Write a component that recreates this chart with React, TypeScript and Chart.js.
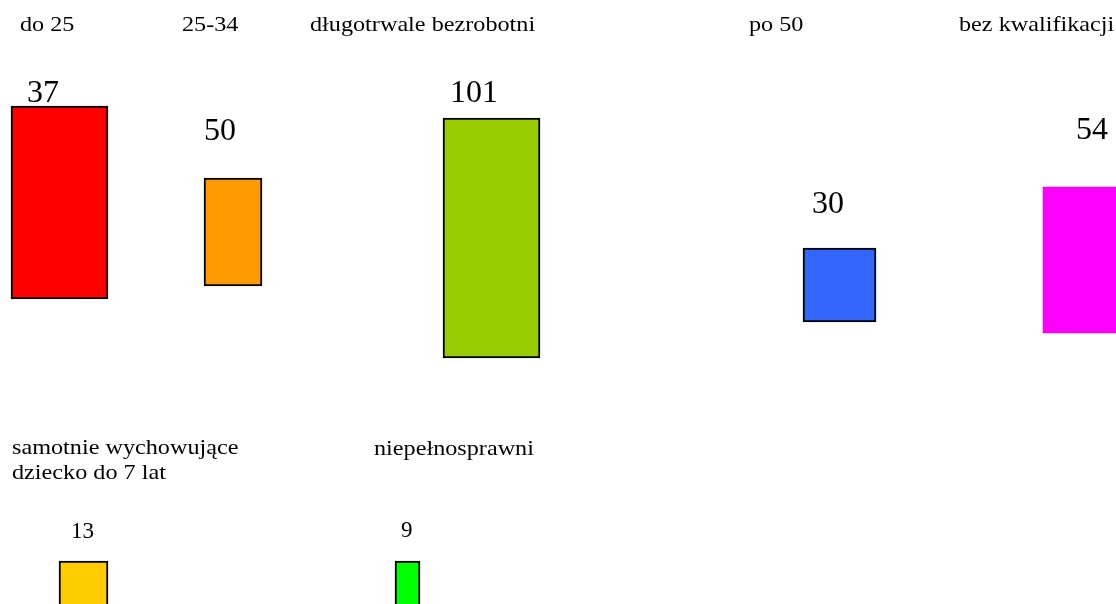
import React, { useEffect, useRef } from "react";
import { Chart, registerables } from "chart.js";

Chart.register(...registerables);

// ---- data ----
const categories = [
  "do 25",
  "25-34",
  "długotrwale bezrobotni",
  "po 50",
  "bez kwalifikacji",
  "samotnie wychowujące\ndziecko do 7 lat",
  "niepełnosprawni",
];
const values = [37, 50, 101, 30, 54, 13, 9];
const fillColors = ["#FF0000", "#FF9900", "#99CC00", "#3366FF", "#FF00FF", "#FFCC00", "#00FF00"];
const hasBorder = [true, true, true, true, false, true, true];

// ---- layout (in the hidden 0..1116 x 0..604 drawing space) ----
const boxX0 = [11, 204, 443, 803, 1043, 59, 395];
const boxX1 = [108, 262, 540, 876, 1130, 108, 420];
const boxTop = [106, 178, 118, 248, 187, 561, 561];
const boxBottom = [299, 286, 358, 322, 333, 625, 625];
const nameX = [20, 182, 310, 749, 959, 12, 374];
const nameY = [31, 31, 31, 31, 31, 454, 455];
const valueX = [27, 204, 450, 812, 1076, 71, 401];
const valueY = [102, 140, 102, 213, 139, 538, 537];
const valueSize = [32, 32, 32, 32, 32, 23, 23];

const FONT = "'Liberation Serif', 'Times New Roman', Times, serif";
const NAME_SIZE = 22;
const NAME_STRETCH = 1.1;
const LINE_GAP = 25;

const labelPlugin = {
  id: "boxLabels",
  afterDatasetsDraw(chart: any) {
    const { ctx } = chart;
    const xs = chart.scales.x;
    const ys = chart.scales.y;
    ctx.save();
    ctx.fillStyle = "#000";
    ctx.textAlign = "left";
    ctx.textBaseline = "alphabetic";
    categories.forEach((name, i) => {
      name.split("\n").forEach((line, k) => {
        const px = xs.getPixelForValue(nameX[i]);
        const py = ys.getPixelForValue(nameY[i] + k * LINE_GAP);
        ctx.save();
        ctx.translate(px, py);
        ctx.scale(NAME_STRETCH, 1);
        ctx.font = `${NAME_SIZE}px ${FONT}`;
        ctx.fillText(line, 0, 0);
        ctx.restore();
      });
      ctx.font = `${valueSize[i]}px ${FONT}`;
      ctx.fillText(String(values[i]), xs.getPixelForValue(valueX[i]), ys.getPixelForValue(valueY[i]));
    });
    ctx.restore();
  },
};

export default function App() {
  const ref = useRef<HTMLCanvasElement | null>(null);

  useEffect(() => {
    document.body.style.margin = "0";
    document.body.style.overflow = "hidden";
    const canvas = ref.current;
    if (!canvas) return;
    const datasets = categories.map((name, i) => ({
      label: name,
      data: [{ x: (boxX0[i] + boxX1[i]) / 2, y: [boxTop[i], boxBottom[i]] }],
      backgroundColor: fillColors[i],
      borderColor: "#000000",
      borderWidth: hasBorder[i] ? 2 : 0,
      borderSkipped: false,
      barThickness: boxX1[i] - boxX0[i],
      grouped: false,
    }));
    const chart = new Chart(canvas, {
      type: "bar",
      data: { datasets } as any,
      plugins: [labelPlugin],
      options: {
        animation: false,
        responsive: false,
        maintainAspectRatio: false,
        layout: { padding: 0 },
        plugins: { legend: { display: false }, tooltip: { enabled: false } },
        scales: {
          x: { type: "linear", min: 0, max: 1116, offset: false, display: false, grid: { offset: false } },
          y: { type: "linear", min: 0, max: 604, reverse: true, display: false },
        },
      } as any,
    });
    return () => chart.destroy();
  }, []);

  return (
    <div style={{ width: 1116, height: 604, background: "#fff" }}>
      <canvas ref={ref} width={1116} height={604} style={{ display: "block" }} />
    </div>
  );
}
